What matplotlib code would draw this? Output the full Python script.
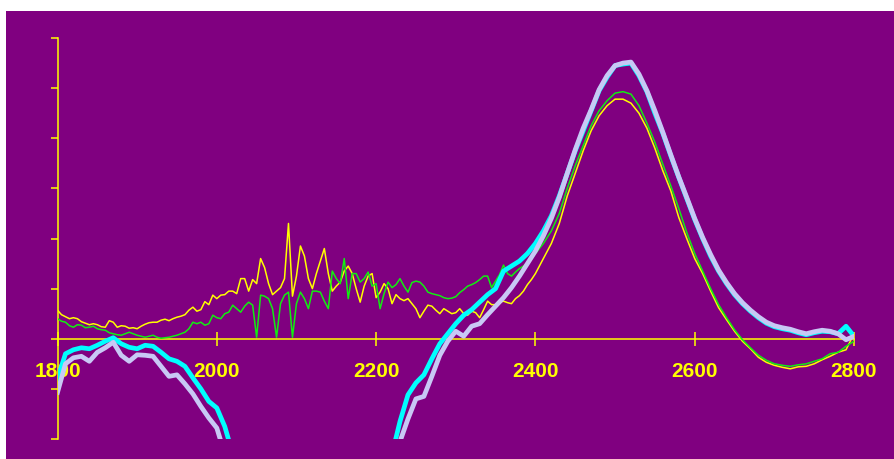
import numpy as np
import matplotlib
matplotlib.use('Agg')
import matplotlib.pyplot as plt
from matplotlib.patches import Rectangle

# ================= data =================
# thin traces were read every 5 cm-1 up to 2400 (noisy part), every 10 after
x_fine = np.concatenate([np.arange(1800, 2400, 5), np.arange(2400, 2801, 10)])
# thick traces every 10 cm-1
x_coarse = np.arange(1800, 2801, 10)

yellow_vals = [
    0.57, 0.48, 0.44, 0.40, 0.42, 0.40, 0.34, 0.31, 0.28, 0.30,   # 1800-1845
    0.28, 0.24, 0.23, 0.36, 0.33, 0.23, 0.26, 0.25, 0.21, 0.22,   # 1850-1895
    0.20, 0.25, 0.29, 0.32, 0.33, 0.33, 0.37, 0.39, 0.36, 0.40,   # 1900-1945
    0.43, 0.45, 0.48, 0.57, 0.63, 0.55, 0.58, 0.74, 0.68, 0.87,   # 1950-1995
    0.80, 0.87, 0.88, 0.95, 0.95, 0.90, 1.20, 1.20, 0.95, 1.18,   # 2000-2045
    1.10, 1.60, 1.42, 1.10, 0.88, 0.95, 1.02, 1.20, 2.30, 0.85,   # 2050-2095
    1.25, 1.85, 1.65, 1.20, 1.00, 1.30, 1.55, 1.80, 1.30, 0.95,   # 2100-2145
    1.05, 1.13, 1.35, 1.45, 1.30, 1.00, 0.73, 1.05, 1.25, 1.30,   # 2150-2195
    0.82, 0.93, 1.10, 1.00, 0.70, 0.88, 0.80, 0.76, 0.80, 0.70,   # 2200-2245
    0.60, 0.42, 0.55, 0.67, 0.65, 0.57, 0.50, 0.60, 0.55, 0.50,   # 2250-2295
    0.52, 0.60, 0.50, 0.47, 0.55, 0.52, 0.42, 0.58, 0.75, 0.68,   # 2300-2345
    0.68, 0.73, 0.75, 0.72, 0.70, 0.80, 0.86, 0.95, 1.08, 1.18,   # 2350-2395
    1.30, 1.60, 1.90, 2.30, 2.85, 3.30, 3.75, 4.15, 4.45, 4.65,   # 2400-2490
    4.78, 4.78, 4.70, 4.50, 4.20, 3.80, 3.35, 2.95, 2.42, 2.00,   # 2500-2590
    1.60, 1.30, 0.95, 0.62, 0.38, 0.15, -0.05, -0.20, -0.37, -0.47,  # 2600-2690
    -0.53, -0.57, -0.60, -0.56, -0.55, -0.50, -0.42, -0.35, -0.27, -0.22,  # 2700-2790
    0.10,
]

green_vals = [
    0.40, 0.35, 0.33, 0.26, 0.23, 0.28, 0.27, 0.22, 0.23, 0.25,
    0.20, 0.18, 0.17, 0.12, 0.10, 0.08, 0.07, 0.10, 0.13, 0.10,
    0.07, 0.05, 0.03, 0.05, 0.07, 0.03, 0.01, 0.02, 0.03, 0.05,
    0.07, 0.10, 0.13, 0.20, 0.33, 0.30, 0.33, 0.27, 0.30, 0.47,
    0.42, 0.40, 0.50, 0.53, 0.67, 0.60, 0.53, 0.65, 0.73, 0.67,
    0.03, 0.87, 0.85, 0.80, 0.60, 0.03, 0.70, 0.87, 0.93, 0.03,
    0.70, 0.93, 0.80, 0.60, 0.95, 0.95, 0.93, 0.75, 0.60, 1.35,
    1.20, 1.10, 1.60, 0.80, 1.30, 1.30, 1.13, 1.20, 1.33, 1.05,
    1.10, 0.60, 0.90, 1.13, 1.02, 1.08, 1.20, 1.05, 0.93, 1.12,
    1.15, 1.13, 1.05, 0.93, 0.90, 0.88, 0.86, 0.82, 0.80, 0.81,
    0.84, 0.92, 0.98, 1.05, 1.08, 1.12, 1.18, 1.25, 1.25, 1.02,
    1.15, 1.28, 1.47, 1.30, 1.25, 1.33, 1.40, 1.45, 1.52, 1.58,
    1.70, 1.90, 2.15, 2.50, 3.00, 3.45, 3.85, 4.25, 4.55, 4.75,
    4.90, 4.93, 4.88, 4.65, 4.30, 3.92, 3.48, 3.05, 2.60, 2.12,
    1.70, 1.35, 1.00, 0.68, 0.42, 0.18, -0.02, -0.18, -0.33, -0.43,
    -0.50, -0.53, -0.55, -0.52, -0.50, -0.45, -0.40, -0.30, -0.27, -0.15,
    -0.05,
]

nan = np.nan  # the thick traces run below the plot between ~2020 and ~2220
cyan_vals = [
    -0.80, -0.30, -0.22, -0.18, -0.20, -0.13, -0.05, 0.02, -0.10, -0.17,
    -0.20, -0.13, -0.15, -0.27, -0.40, -0.45, -0.55, -0.78, -1.00, -1.25,
    -1.38, -1.75, -2.30, nan, nan, nan, nan, nan, nan, nan,
    nan, nan, nan, nan, nan, nan, nan, nan, nan, nan,
    nan, nan, -2.30, -1.65, -1.12, -0.88, -0.72, -0.40, -0.10, 0.10,
    0.30, 0.47, 0.58, 0.73, 0.88, 1.00, 1.35, 1.45, 1.55, 1.70,
    1.90, 2.15, 2.45, 2.85, 3.30, 3.75, 4.15, 4.55, 4.95, 5.22,
    5.45, 5.48, 5.50, 5.25, 4.93, 4.50, 4.10, 3.65, 3.22, 2.80,
    2.38, 2.00, 1.65, 1.35, 1.10, 0.88, 0.70, 0.55, 0.42, 0.31,
    0.24, 0.20, 0.17, 0.12, 0.08, 0.12, 0.15, 0.14, 0.10, 0.25,
    0.05,
]

lavender_vals = [
    -1.07, -0.50, -0.38, -0.35, -0.45, -0.27, -0.18, -0.07, -0.33, -0.45,
    -0.32, -0.33, -0.35, -0.55, -0.75, -0.72, -0.90, -1.10, -1.35, -1.58,
    -1.78, -2.30, nan, nan, nan, nan, nan, nan, nan, nan,
    nan, nan, nan, nan, nan, nan, nan, nan, nan, nan,
    nan, nan, nan, -2.05, -1.60, -1.20, -1.15, -0.75, -0.33, -0.05,
    0.15, 0.05, 0.25, 0.30, 0.48, 0.65, 0.82, 1.02, 1.25, 1.50,
    1.75, 2.05, 2.40, 2.82, 3.30, 3.77, 4.20, 4.57, 4.97, 5.25,
    5.45, 5.50, 5.52, 5.28, 4.95, 4.55, 4.12, 3.67, 3.23, 2.82,
    2.40, 2.02, 1.68, 1.37, 1.12, 0.90, 0.72, 0.57, 0.44, 0.33,
    0.26, 0.22, 0.19, 0.14, 0.10, 0.14, 0.17, 0.15, 0.10, -0.02,
    0.05,
]

x_ticks = [1800, 2000, 2200, 2400, 2600, 2800]
x_tick_labels = ['1800', '2000', '2200', '2400', '2600', '2800']
y_ticks = [-2, -1, 0, 1, 2, 3, 4, 5, 6]

# ================= style =================
BG = '#800080'
AXIS = '#ffff00'
COLORS = {'yellow': '#ffff00', 'green': '#11ee11', 'cyan': '#00ffff', 'lavender': '#c8c8f5'}

fig = plt.figure(figsize=(8.94, 4.6), dpi=100, facecolor=BG)
# thin white margin at top and left of the purple panel
fig.patches.append(Rectangle((0, 1 - 12 / 460), 1, 12 / 460, transform=fig.transFigure,
                             facecolor='white', edgecolor='none'))
fig.patches.append(Rectangle((0, 0), 6 / 894, 1, transform=fig.transFigure,
                             facecolor='white', edgecolor='none'))

ax = fig.add_axes([57.5 / 894, 1 - 440 / 460, (854 - 57.5) / 894, 401 / 460])
ax.set_facecolor('none')

ax.plot(x_fine, yellow_vals, color=COLORS['yellow'], linewidth=1.1, zorder=3)
ax.plot(x_fine, green_vals, color=COLORS['green'], linewidth=1.1, zorder=3)
ax.plot(x_coarse, cyan_vals, color=COLORS['cyan'], linewidth=3.4, zorder=4)
ax.plot(x_coarse, lavender_vals, color=COLORS['lavender'], linewidth=3.4, zorder=5)

ax.set_xlim(1800, 2800)
ax.set_ylim(-2, 6)

# axes: x line at zero, y line at the left
for side in ['top', 'right']:
    ax.spines[side].set_visible(False)
ax.spines['bottom'].set_position(('data', 0))
for side in ['bottom', 'left']:
    ax.spines[side].set_color(AXIS)
    ax.spines[side].set_linewidth(1.1)

ax.set_xticks(x_ticks)
ax.set_xticklabels(x_tick_labels, fontweight='bold', fontsize=15, family='Liberation Sans')
ax.set_yticks(y_ticks)
ax.set_yticklabels([])
ax.tick_params(axis='x', direction='inout', length=10, width=1.1, color=AXIS,
               labelcolor=AXIS, pad=11)
ax.tick_params(axis='y', direction='out', length=5, width=1.1, color=AXIS)

fig.savefig('out.png', dpi=100, facecolor=fig.get_facecolor())
